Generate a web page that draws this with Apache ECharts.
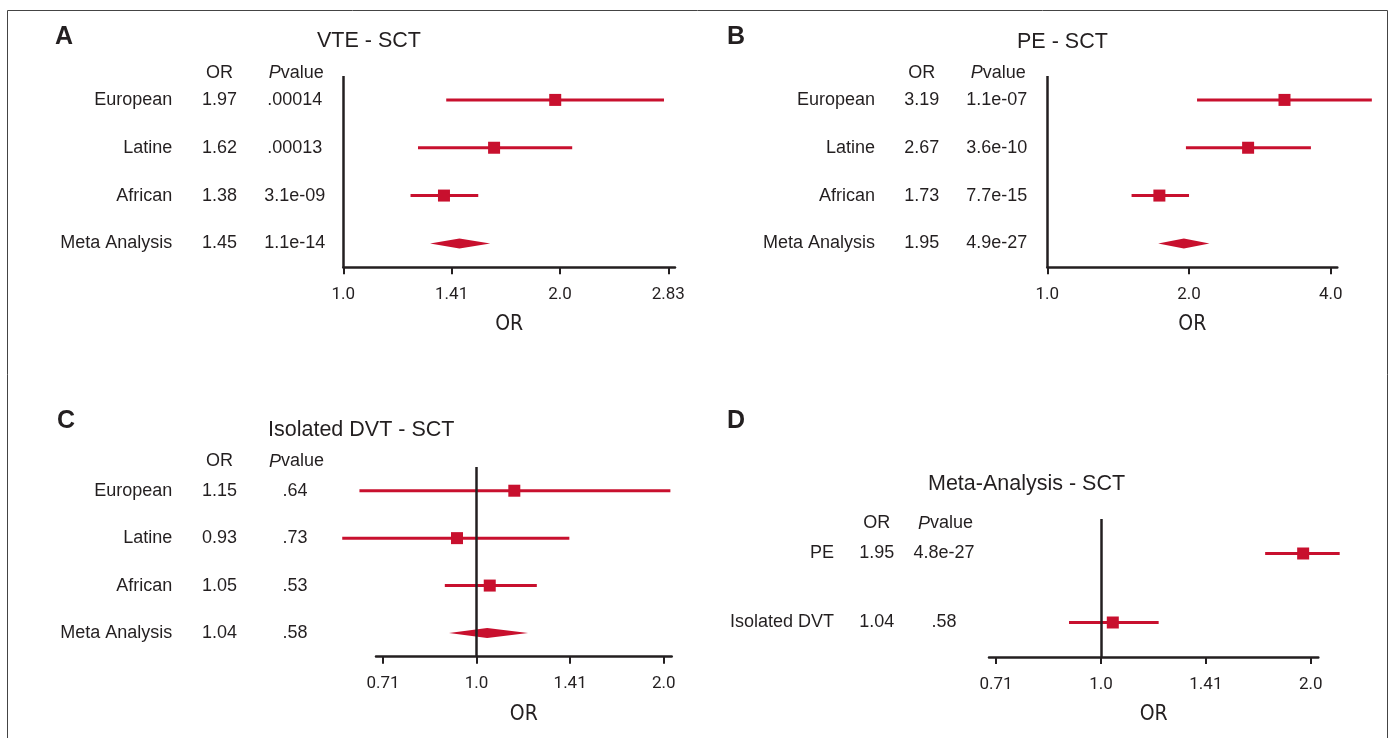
<!DOCTYPE html>
<html>
<head>
<meta charset="utf-8">
<script src="https://cdn.jsdelivr.net/npm/echarts@6/dist/echarts.min.js"></script>
<style>
  html, body { margin: 0; padding: 0; background: #ffffff; }
  #chart { width: 1392px; height: 738px; }
</style>
</head>
<body>
<div id="chart"></div>
<script>
// ---------------- Data ----------------
const groupsA = ['European', 'Latine', 'African', 'Meta Analysis'];
const orA = [1.97, 1.62, 1.38, 1.45];
const loA = [1.39, 1.27, 1.24, 1.32];
const hiA = [2.79, 2.08, 1.54, 1.60];
const pA = ['.00014', '.00013', '3.1e-09', '1.1e-14'];
const shapeA = ['square', 'square', 'square', 'diamond'];

const groupsB = ['European', 'Latine', 'African', 'Meta Analysis'];
const orB = [3.19, 2.67, 1.73, 1.95];
const loB = [2.08, 1.97, 1.51, 1.72];
const hiB = [4.89, 3.63, 2.00, 2.21];
const pB = ['1.1e-07', '3.6e-10', '7.7e-15', '4.9e-27'];
const shapeB = ['square', 'square', 'square', 'diamond'];

const groupsC = ['European', 'Latine', 'African', 'Meta Analysis'];
const orC = [1.15, 0.93, 1.05, 1.04];
const loC = [0.648, 0.608, 0.889, 0.903];
const hiC = [2.05, 1.41, 1.25, 1.21];
const pC = ['.64', '.73', '.53', '.58'];
const shapeC = ['square', 'square', 'square', 'diamond'];

const groupsD = ['PE', 'Isolated DVT'];
const orD = [1.95, 1.04];
const loD = [1.72, 0.90];
const hiD = [2.20, 1.21];
const pD = ['4.8e-27', '.58'];
const shapeD = ['square', 'square'];

const ticksA = [1, 1.41421, 2, 2.82843];
const tickLabelsA = ['1.0', '1.41', '2.0', '2.83'];
const ticksB = [1, 2, 4];
const tickLabelsB = ['1.0', '2.0', '4.0'];
const ticksC = [0.70711, 1, 1.41421, 2];
const tickLabelsC = ['0.71', '1.0', '1.41', '2.0'];
const ticksD = [0.70711, 1, 1.41421, 2];
const tickLabelsD = ['0.71', '1.0', '1.41', '2.0'];

const titles = ['VTE - SCT', 'PE - SCT', 'Isolated DVT - SCT', 'Meta-Analysis - SCT'];
const letters = ['A', 'B', 'C', 'D'];
const headerOR = 'OR';
const axisName = 'OR';

// ---------------- Styling / layout ----------------
const RED = '#c8102e';
const INK = '#231f20';
const FONT = "'Liberation Sans', Arial, Helvetica, sans-serif";
const TICKFONT = "Roboto, 'DejaVu Sans', sans-serif";
const NAMEFONT = "'Liberation Sans Narrow', 'DejaVu Sans Condensed', sans-serif";

const panels = [
  { rows: groupsA, or: orA, lo: loA, hi: hiA, p: pA, shape: shapeA, ticks: ticksA, tickLabels: tickLabelsA,
    min: 1, max: 2.89, grid: { left: 343.3, top: 76, width: 331.7, height: 191.3 },
    nameRight: 172.3, orX: 219.5, pX: 294.7, headY: 73, titleX: 317, titleY: 41.5, letterX: 55, letterY: 37 },
  { rows: groupsB, or: orB, lo: loB, hi: hiB, p: pB, shape: shapeB, ticks: ticksB, tickLabels: tickLabelsB,
    min: 1, max: 4.13, grid: { left: 1047.3, top: 76, width: 290, height: 191.3 },
    nameRight: 875, orX: 921.7, pX: 996.7, headY: 73, titleX: 1017, titleY: 42, letterX: 727, letterY: 37 },
  { rows: groupsC, or: orC, lo: loC, hi: hiC, p: pC, shape: shapeC, ticks: ticksC, tickLabels: tickLabelsC,
    min: 0.689, max: 2.06, grid: { left: 376, top: 467, width: 295.7, height: 189.7 },
    nameRight: 172.3, orX: 219.5, pX: 295, headY: 461.5, titleX: 268, titleY: 430, letterX: 57, letterY: 421.5 },
  { rows: groupsD, or: orD, lo: loD, hi: hiD, p: pD, shape: shapeD, ticks: ticksD, tickLabels: tickLabelsD,
    min: 0.691, max: 2.05, grid: { left: 989, top: 519, width: 329.3, height: 138 },
    nameRight: 834, orX: 876.7, pX: 944, headY: 523.5, titleX: 928, titleY: 484, letterX: 727, letterY: 421.5 }
];

function makeRender(shapes) {
  return function (params, api) {
    const row = api.value(1);
    const c = api.coord([api.value(0), row]);
    const l = api.coord([api.value(2), row]);
    const h = api.coord([api.value(3), row]);
    if (shapes[params.dataIndex] === 'diamond') {
      return {
        type: 'polygon',
        shape: { points: [[l[0], c[1]], [c[0], c[1] - 5], [h[0], c[1]], [c[0], c[1] + 5]] },
        style: { fill: RED }
      };
    }
    return {
      type: 'group',
      children: [
        { type: 'line', shape: { x1: l[0], y1: c[1], x2: h[0], y2: c[1] }, style: { stroke: RED, lineWidth: 3 } },
        { type: 'rect', shape: { x: c[0] - 6, y: c[1] - 6, width: 12, height: 12 }, style: { fill: RED } }
      ]
    };
  };
}

const grids = [], xAxes = [], yAxes = [], series = [];
const graphics = [
  { type: 'rect', z: 0, shape: { x: 7.5, y: 10.5, width: 1380, height: 760 },
    style: { fill: 'none', stroke: '#444444', lineWidth: 1 } }
];

panels.forEach(function (pn, i) {
  grids.push(Object.assign({ outerBoundsMode: 'none', containLabel: false }, pn.grid));
  const wO = 2 * (pn.orX - pn.nameRight);
  const wP = 2 * (pn.pX - (pn.nameRight + wO));
  const margin = pn.grid.left - (pn.nameRight + wO + wP);

  xAxes.push({
    type: 'log', logBase: 2, gridIndex: i, min: pn.min, max: pn.max,
    axisLine: { show: true, onZero: false, lineStyle: { color: INK, width: 2.5 } },
    axisTick: { show: true, length: 7, lineStyle: { color: INK, width: 2 }, customValues: pn.ticks },
    minorTick: { show: false },
    splitLine: { show: false },
    axisLabel: {
      customValues: pn.ticks, margin: 19, fontSize: 17, fontFamily: TICKFONT, color: INK,
      formatter: function (v) {
        let best = 0, bd = Infinity;
        pn.ticks.forEach(function (t, k) { const d = Math.abs(t - v); if (d < bd) { bd = d; best = k; } });
        return pn.tickLabels[best];
      }
    },
    name: axisName, nameLocation: 'middle', nameGap: 47,
    nameTextStyle: { fontSize: 21, fontFamily: NAMEFONT, color: INK }
  });

  yAxes.push({
    type: 'category', gridIndex: i, inverse: true, data: pn.rows,
    axisLine: { show: false }, axisTick: { show: false }, splitLine: { show: false },
    axisLabel: {
      interval: 0, margin: margin, color: INK, fontSize: 18, fontFamily: FONT,
      formatter: function (v, idx) {
        return '{n|' + v + '}{o|' + pn.or[idx].toFixed(2) + '}{p|' + pn.p[idx] + '}';
      },
      rich: {
        n: { fontSize: 18, fontFamily: FONT, color: INK },
        o: { width: wO, align: 'center', fontSize: 18, fontFamily: FONT, color: INK },
        p: { width: wP, align: 'center', fontSize: 18, fontFamily: FONT, color: INK }
      }
    }
  });

  series.push({
    type: 'custom', xAxisIndex: i, yAxisIndex: i, clip: false, silent: true,
    renderItem: makeRender(pn.shape),
    encode: { x: [0, 2, 3], y: 1 },
    data: pn.rows.map(function (r, k) { return [pn.or[k], k, pn.lo[k], pn.hi[k]]; }),
    markLine: {
      silent: true, symbol: 'none', animation: false, z: 10,
      label: { show: false },
      lineStyle: { color: INK, width: 2.5, type: 'solid' },
      data: [{ xAxis: 1 }]
    }
  });

  graphics.push(
    { type: 'text', x: pn.letterX, y: pn.letterY,
      style: { text: letters[i], fontSize: 25, fontWeight: 'bold', fontFamily: FONT, fill: INK, align: 'left', verticalAlign: 'middle' } },
    { type: 'text', x: pn.titleX, y: pn.titleY,
      style: { text: titles[i], fontSize: 21.5, fontFamily: FONT, fill: INK, align: 'left', verticalAlign: 'middle' } },
    { type: 'text', x: pn.orX, y: pn.headY,
      style: { text: headerOR, fontSize: 18, fontFamily: FONT, fill: INK, align: 'center', verticalAlign: 'middle' } },
    { type: 'text', x: pn.pX + 1.5, y: pn.headY,
      style: { text: '{i|P}{r|value}', fontSize: 18, fontFamily: FONT, fill: INK, align: 'center', verticalAlign: 'middle',
        rich: { i: { fontStyle: 'italic', fontSize: 18, fontFamily: FONT, fill: INK }, r: { fontSize: 18, fontFamily: FONT, fill: INK } } } }
  );
});

const chart = echarts.init(document.getElementById('chart'), null, { renderer: 'canvas' });
chart.setOption({
  backgroundColor: '#ffffff',
  animation: false,
  grid: grids,
  xAxis: xAxes,
  yAxis: yAxes,
  series: series,
  graphic: graphics
});
</script>
</body>
</html>
